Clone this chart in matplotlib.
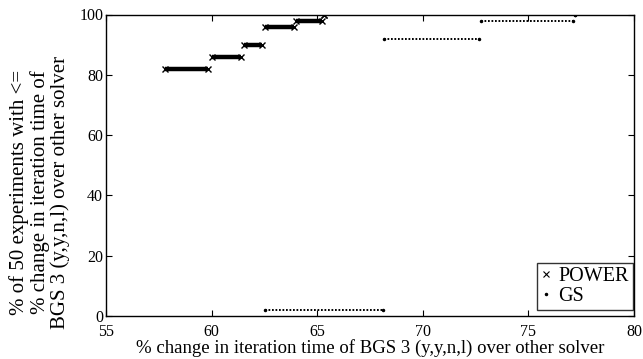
import matplotlib
matplotlib.use("Agg")
import matplotlib.pyplot as plt
from matplotlib.lines import Line2D

plt.rcParams['font.family'] = ['Liberation Serif', 'DejaVu Serif']

# Step segments of the cumulative distributions (x start, x end, y level)
power_start = [57.8, 60.0, 61.55, 62.55, 64.0, 65.34]
power_end = [59.85, 61.4, 62.4, 63.9, 65.25, 65.34]
power_level = [82, 86, 90, 96, 98, 100]

gs_start = [62.53, 68.18, 72.74, 77.2]
gs_end = [68.1, 72.67, 77.13, 77.2]
gs_level = [2, 92, 98, 100]

xticks = [55, 60, 65, 70, 75, 80]
yticks = [0, 20, 40, 60, 80, 100]

fig = plt.figure(figsize=(6.43, 3.59), dpi=100)
ax = fig.add_axes([106/643, 1-316/359, (634-106)/643, (316-14.5)/359])

# POWER: dense 'x' markers -> thick band with x ends
ax.hlines(power_level, power_start, power_end, colors='black', linewidth=3.2)
ax.plot(power_start + power_end, power_level + power_level, linestyle='none',
        marker='x', markersize=5, markeredgewidth=1.0, color='black')

# GS: dense dots -> dotted line
ax.hlines(gs_level, gs_start, gs_end, colors='black', linewidth=1.4,
          linestyles=(0, (0.9, 0.9)))
ax.plot(gs_start + gs_end, gs_level + gs_level, linestyle='none',
        marker='.', markersize=3, color='black')

ax.set_xlim(55, 80)
ax.set_ylim(0, 100)
ax.set_xticks(xticks)
ax.set_yticks(yticks)
ax.tick_params(direction='in', length=4, width=0.8, top=True, right=True,
               labelsize=11.5)
ax.tick_params(axis='x', pad=6)
ax.tick_params(axis='y', pad=2)
for s in ax.spines.values():
    s.set_linewidth(1.0)

ax.set_xlabel('% change in iteration time of BGS 3 (y,y,n,l) over other solver',
              fontsize=13.5, labelpad=-1)
ax.set_ylabel('% of 50 experiments with <=\n% change in iteration time of\nBGS 3 (y,y,n,l) over other solver',
              fontsize=15, linespacing=1.05)
ax.yaxis.set_label_coords(-0.068, 0.41)

handles = [Line2D([], [], linestyle='none', marker='x', markersize=4,
                  markeredgewidth=0.8, color='black'),
           Line2D([], [], linestyle='none', marker='.', markersize=3,
                  color='black')]
leg = ax.legend(handles, ['POWER', 'GS'], loc='lower right', fontsize=14.5,
                frameon=True, fancybox=False, edgecolor='black',
                handlelength=0.5, handletextpad=0.35, borderpad=0.2,
                labelspacing=0.05, borderaxespad=0,
                bbox_to_anchor=(0.998, 6/301.5))
leg.get_frame().set_linewidth(1.0)

fig.savefig('out.png', dpi=100)
